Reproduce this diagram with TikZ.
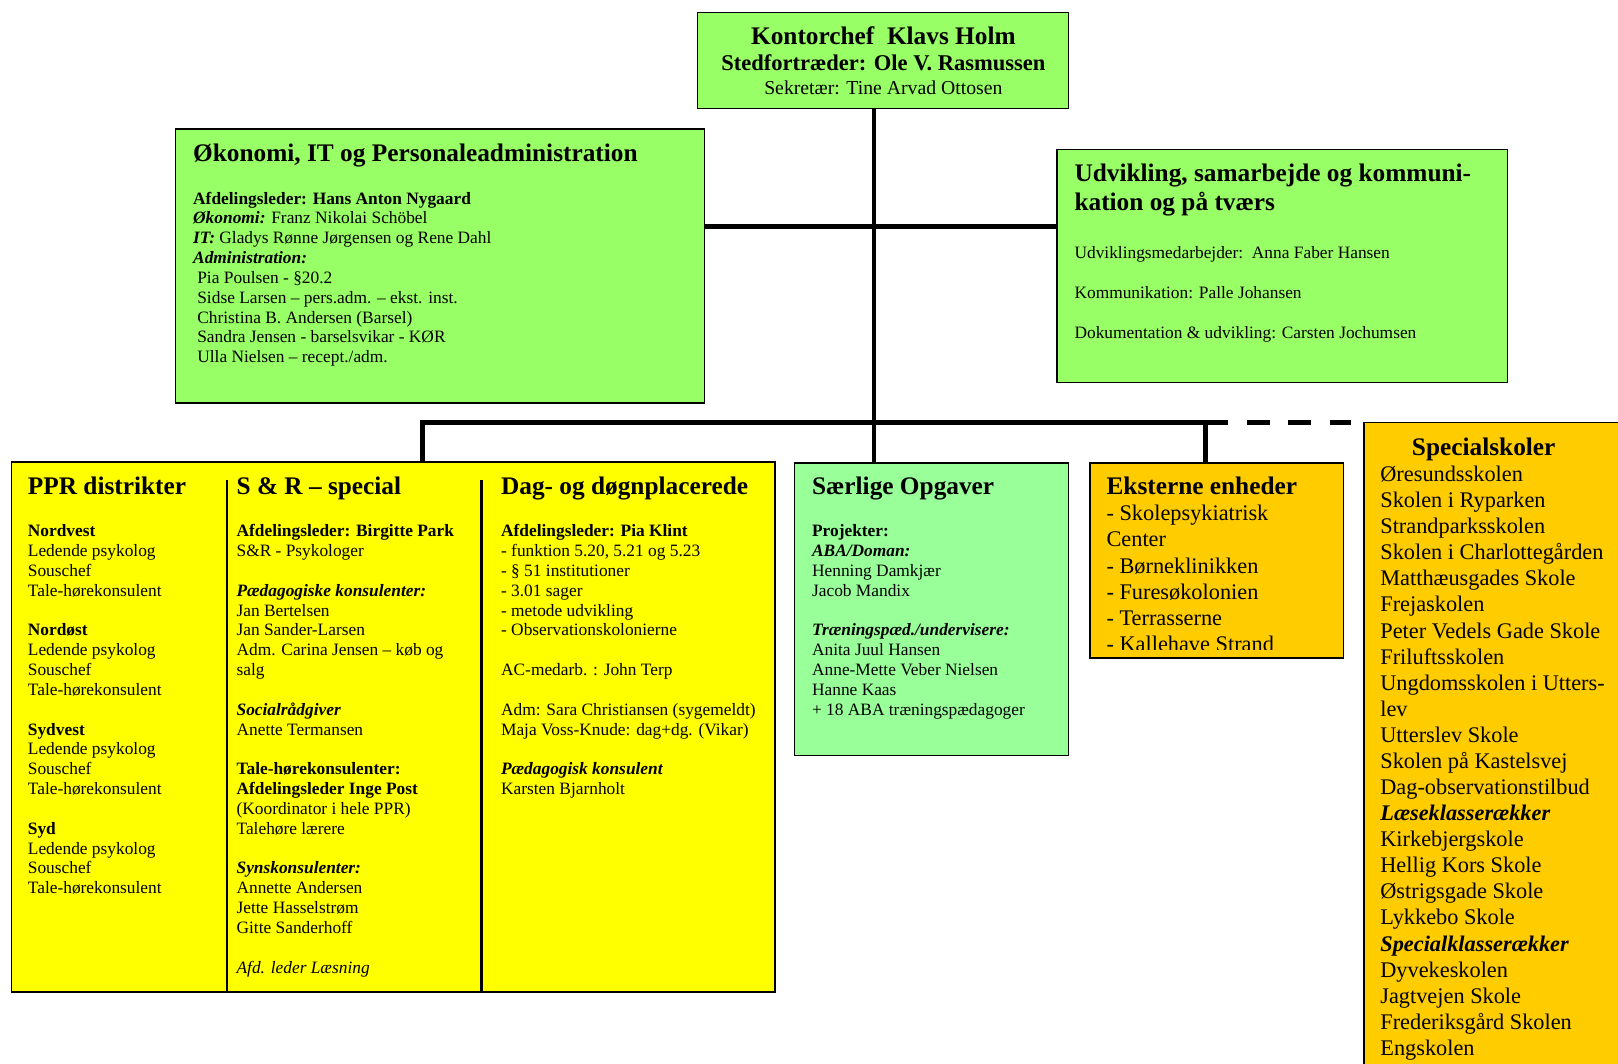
\documentclass[tikz,border=0pt]{standalone}
\usepackage{fontspec}
\setmainfont{Liberation Serif}
\definecolor{lgreen}{HTML}{99FF66}
\definecolor{mgreen}{HTML}{99FF99}
\definecolor{yel}{HTML}{FFFF00}
\definecolor{orng}{HTML}{FFCC00}
\tikzset{
 box/.style={draw=black, line width=1.3pt, anchor=north west, inner sep=0pt, outer sep=0pt},
 conn/.style={line width=4.5pt, draw=black},
 sep/.style={line width=2pt, draw=black},
 txt/.style={anchor=base west, inner sep=0pt, outer sep=0pt},
 body/.style={font=\fontsize{16.8}{19.2}\selectfont},
 ttl/.style={font=\fontsize{24.5}{28}\selectfont\bfseries},
 big/.style={font=\fontsize{21.6}{25.3}\selectfont},
}
\newcommand\tb[1]{\begin{tabular}[t]{@{}l@{}}#1\end{tabular}}
\newcommand\bi[1]{\textbf{\textit{#1}}}
\begin{document}
\begin{tikzpicture}[x=1pt,y=-1pt]
\useasboundingbox (0,0) rectangle (1566,1029);
\clip (0,0) rectangle (1566,1029);
\fill[white] (0,0) rectangle (1566,1029);

% boxes
\node[box, fill=lgreen, minimum width=359pt, minimum height=93pt] (top) at (675,12) {};
\node[box, fill=lgreen, minimum width=512pt, minimum height=265pt] (oek) at (170,125) {};
\node[box, fill=lgreen, minimum width=436pt, minimum height=225pt] (udv) at (1023,145) {};
\node[box, fill=yel, minimum width=739pt, minimum height=513pt] (ppr) at (11,447) {};
\node[box, fill=mgreen, minimum width=265pt, minimum height=283pt] (sar) at (769,448) {};
\node[box, fill=orng, minimum width=245pt, minimum height=189pt] (ext) at (1055,448) {};
\node[box, fill=orng, minimum width=280pt, minimum height=650pt] (spec) at (1320,409) {};

% connector coordinates
\coordinate (tx) at (846,0);
\coordinate (h1) at (846,219);
\coordinate (b1) at (409,409);
\coordinate (b3) at (1167,409);
\coordinate (dend) at (1308,409);

\draw[conn] (top.south -| tx) -- (sar.north -| tx);
\draw[conn] (oek.east |- h1) -- (udv.west |- h1);
\draw[conn] (ppr.north -| b1) -- (b1) -- (b3) -- (ext.north -| b3);
\draw[conn, dash pattern=on 22pt off 18pt] (b3) -- (dend);

% column separators
\coordinate (s1) at (220,465);
\coordinate (s2) at (466,465);
\draw[sep] (s1) -- (ppr.south -| s1);
\draw[sep] (s2) -- (ppr.south -| s2);

% top box text
\node[anchor=base, inner sep=0pt, font=\fontsize{24.5}{28}\selectfont\bfseries] (t1) at (855,43) {Kontorchef\ \ Klavs Holm};
\node[anchor=base, inner sep=0pt, font=\fontsize{21.8}{25}\selectfont\bfseries] (t2) at (855,68) {Stedfortræder: Ole V. Rasmussen};
\node[anchor=base, inner sep=0pt, font=\fontsize{19.1}{22}\selectfont] (t3) at (855,91) {Sekretær: Tine Arvad Ottosen};

% Økonomi
\node[txt, ttl] (oekt) at (187,156) {Økonomi, IT og Personaleadministration};
\node[txt, body] (oekb) at (187,197.5) {\tb{%
\textbf{Afdelingsleder: Hans Anton Nygaard}\\
\bi{Økonomi:} Franz Nikolai Schöbel\\
\bi{IT:} Gladys Rønne Jørgensen og Rene Dahl\\
\bi{Administration:}\\
\hspace{4pt}Pia Poulsen - §20.2\\
\hspace{4pt}Sidse Larsen – pers.adm. – ekst. inst.\\
\hspace{4pt}Christina B. Andersen (Barsel)\\
\hspace{4pt}Sandra Jensen - barselsvikar - KØR\\
\hspace{4pt}Ulla Nielsen – recept./adm.}};

% Udvikling
\node[txt, ttl] (udvt) at (1040,176) {\tb{Udvikling, samarbejde og kommuni-\\kation og på tværs}};
\node[txt, body] (udvb) at (1040,250.5) {\tb{%
Udviklingsmedarbejder:\ \ Anna Faber Hansen\\
\\
Kommunikation: Palle Johansen\\
\\
Dokumentation \& udvikling: Carsten Jochumsen}};

% yellow box columns
\begin{scope}
\clip (12,448) rectangle (749,959);
\node[txt, ttl] (pprt) at (27,479) {PPR distrikter};
\node[txt, body] (pprb) at (27,519.5) {\tb{%
\textbf{Nordvest}\\ Ledende psykolog\\ Souschef\\ Tale-hørekonsulent\\ \\
\textbf{Nordøst}\\ Ledende psykolog\\ Souschef\\ Tale-hørekonsulent\\ \\
\textbf{Sydvest}\\ Ledende psykolog\\ Souschef\\ Tale-hørekonsulent\\ \\
\textbf{Syd}\\ Ledende psykolog\\ Souschef\\ Tale-hørekonsulent}};

\node[txt, ttl] (srt) at (229,479) {S \& R – special};
\node[txt, body] (srb) at (229,519.5) {\tb{%
\textbf{Afdelingsleder: Birgitte Park}\\
S\&R - Psykologer\\ \\
\bi{Pædagogiske konsulenter:}\\
Jan Bertelsen\\
Jan Sander-Larsen\\
Adm. Carina Jensen – køb og\\
salg\\ \\
\bi{Socialrådgiver}\\
Anette Termansen\\ \\
\textbf{Tale-hørekonsulenter:}\\
\textbf{Afdelingsleder Inge Post}\\
(Koordinator i hele PPR)\\
Talehøre lærere\\ \\
\bi{Synskonsulenter:}\\
Annette Andersen\\
Jette Hasselstrøm\\
Gitte Sanderhoff\\ \\
\textit{Afd. leder Læsning}}};

\node[txt, ttl] (dagt) at (485,479) {Dag- og døgnplacerede};
\node[txt, body] (dagb) at (485,519.5) {\tb{%
\textbf{Afdelingsleder: Pia Klint}\\
- funktion 5.20, 5.21 og 5.23\\
- § 51 institutioner\\
- 3.01 sager\\
- metode udvikling\\
- Observationskolonierne\\ \\
AC-medarb. : John Terp\\ \\
Adm: Sara Christiansen (sygemeldt)\\
Maja Voss-Knude: dag+dg. (Vikar)\\ \\
\bi{Pædagogisk konsulent}\\
Karsten Bjarnholt}};
\end{scope}

% Særlige
\node[txt, ttl] (sart) at (786,479) {Særlige Opgaver};
\node[txt, body] (sarb) at (786,519.5) {\tb{%
\textbf{Projekter:}\\
\bi{ABA/Doman:}\\
Henning Damkjær\\
Jacob Mandix\\ \\
\bi{Træningspæd./undervisere:}\\
Anita Juul Hansen\\
Anne-Mette Veber Nielsen\\
Hanne Kaas\\
+ 18 ABA træningspædagoger}};

% Eksterne
\begin{scope}
\clip (1056,449) rectangle (1299,629);
\node[txt, ttl] (extt) at (1071,479) {Eksterne enheder};
\node[txt, big] (extb) at (1071,504) {\tb{%
- Skolepsykiatrisk\\
Center\\
- Børneklinikken\\
- Furesøkolonien\\
- Terrasserne\\
- Kallehave Strand}};
\end{scope}

% Specialskoler
\node[anchor=base, inner sep=0pt, ttl] (spect) at (1436,441) {Specialskoler};
\node[txt, big, font=\fontsize{21.6}{25.25}\selectfont] (specb) at (1336,466) {\tb{%
Øresundsskolen\\
Skolen i Ryparken\\
Strandparksskolen\\
Skolen i Charlottegården\\
Matthæusgades Skole\\
Frejaskolen\\
Peter Vedels Gade Skole\\
Friluftsskolen\\
Ungdomsskolen i Utters-\\
lev\\
Utterslev Skole\\
Skolen på Kastelsvej\\
Dag-observationstilbud\\
\bi{Læseklasserækker}\\
Kirkebjergskole\\
Hellig Kors Skole\\
Østrigsgade Skole\\
Lykkebo Skole\\
\bi{Specialklasserækker}\\
Dyvekeskolen\\
Jagtvejen Skole\\
Frederiksgård Skolen\\
Engskolen}};
\end{tikzpicture}
\end{document}
